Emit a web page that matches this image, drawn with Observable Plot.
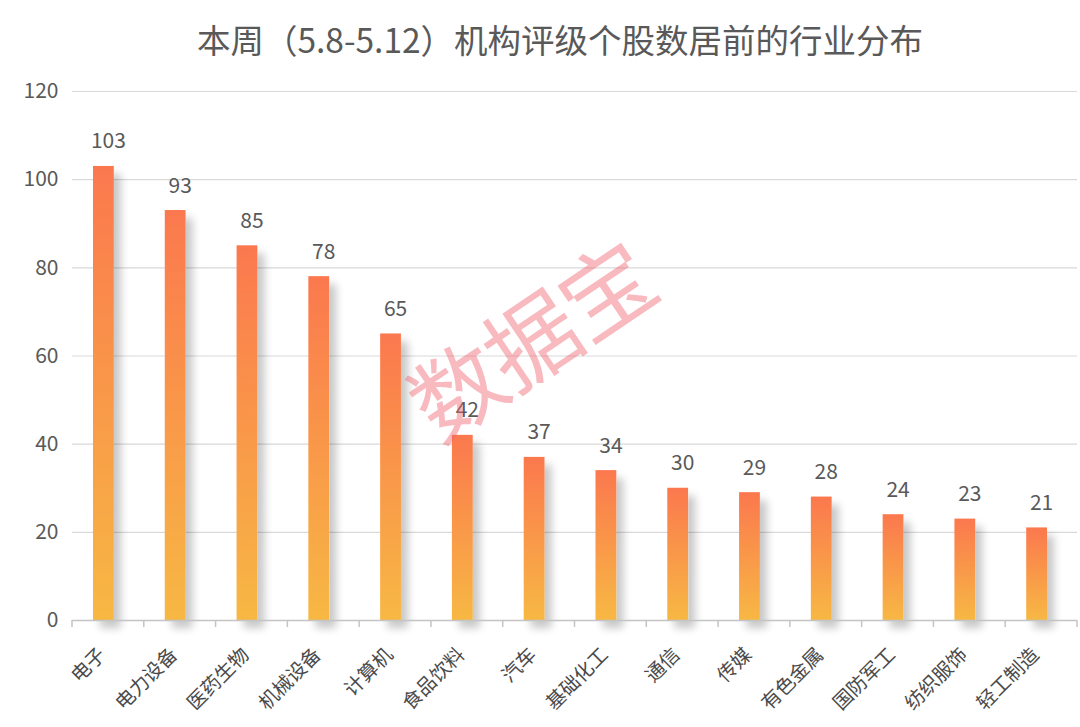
<!DOCTYPE html>
<html>
<head>
<meta charset="utf-8">
<script src="https://cdn.jsdelivr.net/npm/d3@7"></script>
<script src="https://cdn.jsdelivr.net/npm/@observablehq/plot@0.6"></script>
<style>
  html, body { margin: 0; padding: 0; background: #fff; }
  body { width: 1080px; height: 727px; position: relative; overflow: hidden;
         font-family: "Noto Sans CJK SC", "Noto Sans", sans-serif; }
  #title { height: 75px; box-sizing: border-box; padding-top: 20px; padding-left: 40px; font-size: 33.5px; line-height: 38px;
           text-align: center; color: #595959; }
  #wm { position: absolute; left: 528px; top: 336px; transform: translate(-50%, -50%) rotate(-34deg);
        font-size: 92px; color: rgba(240, 100, 112, 0.45); white-space: nowrap; letter-spacing: -2px;
        pointer-events: none; font-weight: 400; }
</style>
</head>
<body>
<div id="title">本周（5.8-5.12）机构评级个股数居前的行业分布</div>
<div id="chart"></div>
<div id="wm">数据宝</div>
<script>
const categories = ["电子", "电力设备", "医药生物", "机械设备", "计算机", "食品饮料", "汽车", "基础化工", "通信", "传媒", "有色金属", "国防军工", "纺织服饰", "轻工制造"];
const counts = [103, 93, 85, 78, 65, 42, 37, 34, 30, 29, 28, 24, 23, 21];
const yTicks = [0, 20, 40, 60, 80, 100, 120];

const data = categories.map((c, i) => ({industry: c, count: counts[i]}));

const chart = Plot.plot({
  width: 1080,
  height: 652,
  marginTop: 16,
  marginBottom: 107,
  marginLeft: 72,
  marginRight: 3,
  style: {fontFamily: '"Noto Sans CJK SC", "Noto Sans", sans-serif', background: "transparent", overflow: "visible"},
  x: {domain: categories, padding: 0, round: false, label: null},
  y: {domain: [0, 120], label: null},
  marks: [
    Plot.gridY(yTicks, {stroke: "#d9d9d9", strokeOpacity: 1, strokeWidth: 1.2}),
    Plot.axisY(yTicks, {tickSize: 0, tickPadding: 14, fontSize: 21, fill: "#595959", label: null}),
    Plot.axisX({tickSize: 0, tickPadding: 31, tickRotate: -45, fontSize: 19.5, dx: -6, fill: "#4a4a4a", label: null}),
    Plot.barY(data, {x: "industry", y: "count", fill: "url(#barGrad)", insetLeft: 21, insetRight: 30}),
    Plot.ruleY([0], {stroke: "#c4c4c4", strokeWidth: 1.5}),
    Plot.text(data, {x: "industry", y: "count", text: d => String(d.count), lineAnchor: "bottom", dy: -18, fontSize: 21, fill: "#595959"})
  ]
});

const svg = d3.select(chart);
const defs = svg.insert("defs", ":first-child");
const grad = defs.append("linearGradient").attr("id", "barGrad").attr("x1", 0).attr("y1", 0).attr("x2", 0).attr("y2", 1);
grad.append("stop").attr("offset", "0%").attr("stop-color", "#fb784f");
grad.append("stop").attr("offset", "100%").attr("stop-color", "#f7b843");
const f = defs.append("filter").attr("id", "shadow").attr("x", "-50%").attr("y", "-20%").attr("width", "250%").attr("height", "140%");
f.append("feGaussianBlur").attr("in", "SourceAlpha").attr("stdDeviation", 4).attr("result", "b");
f.append("feOffset").attr("in", "b").attr("dx", 7).attr("dy", 8).attr("result", "o");
f.append("feComponentTransfer").attr("in", "o").attr("result", "s")
  .append("feFuncA").attr("type", "linear").attr("slope", 0.22);
const m = f.append("feMerge");
m.append("feMergeNode").attr("in", "s");
m.append("feMergeNode").attr("in", "SourceGraphic");
svg.selectAll('g[aria-label="bar"]').attr("filter", "url(#shadow)");

// boundary ticks under the x axis, placed through Plot's x scale
const xs = chart.scale("x");
const ys = chart.scale("y");
const y0 = ys.apply(0);
const edges = categories.map(c => xs.apply(c)).concat([xs.apply(categories[categories.length - 1]) + xs.bandwidth]);
svg.append("g").selectAll("line").data(edges).join("line")
  .attr("x1", d => d).attr("x2", d => d).attr("y1", y0).attr("y2", y0 + 7)
  .attr("stroke", "#c4c4c4").attr("stroke-width", 1.5);

document.getElementById("chart").appendChild(chart);
</script>
</body>
</html>
